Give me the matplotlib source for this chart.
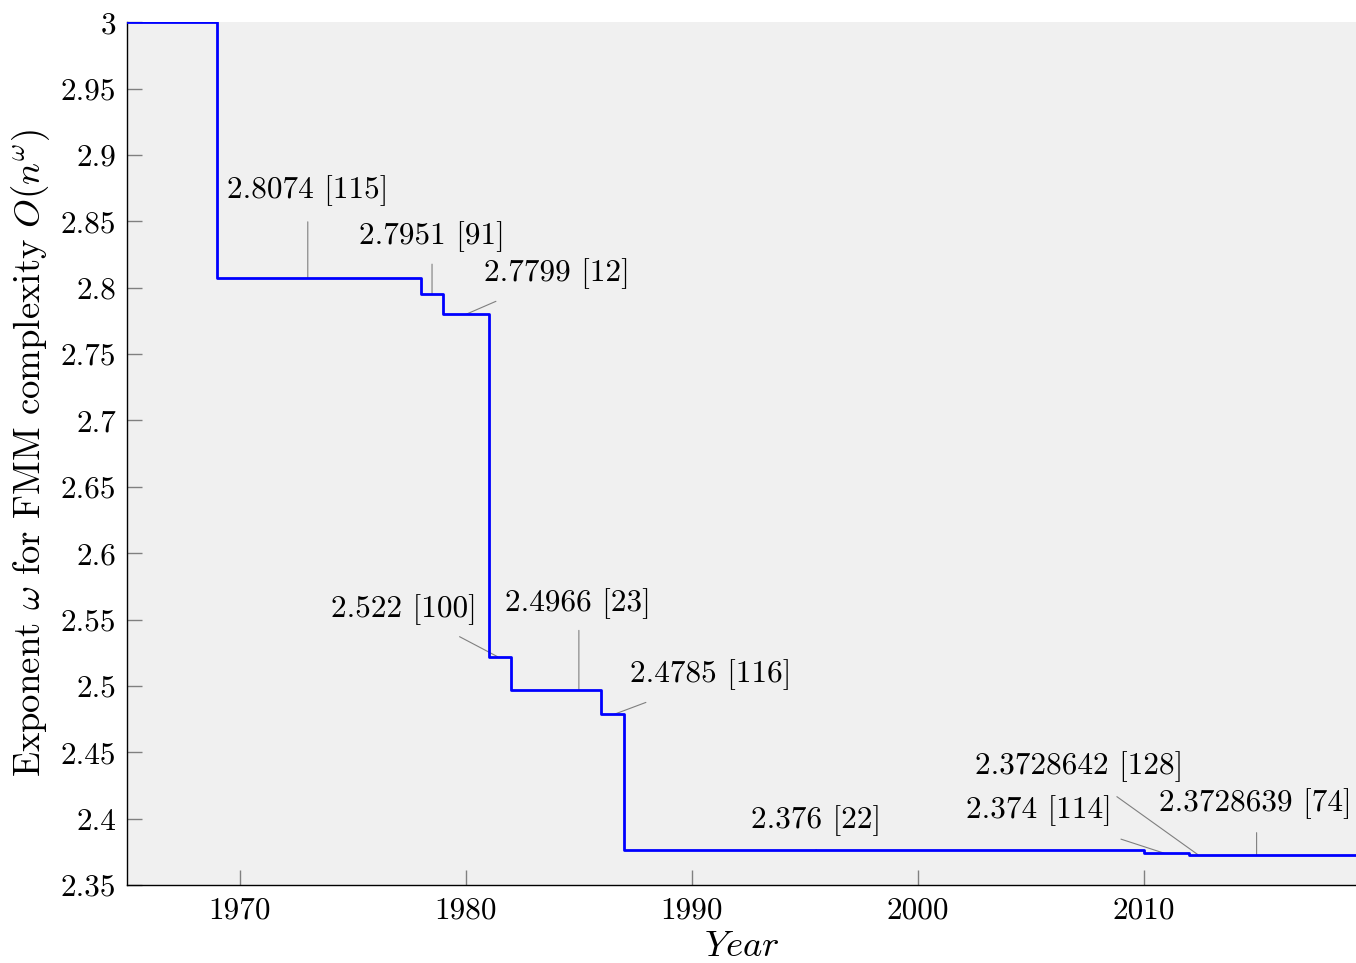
import matplotlib
matplotlib.use("Agg")
import matplotlib.pyplot as plt
from matplotlib.ticker import FuncFormatter, MultipleLocator

plt.rcParams.update({
    "font.family": "serif",
    "font.serif": ["cmr10"],
    "mathtext.fontset": "cm",
    "axes.formatter.use_mathtext": True,
    "font.size": 22.5,
})

# Year each bound was published and the exponent it achieved (step changes)
years = [1965, 1969, 1978, 1979, 1981, 1982, 1986, 1987, 2010, 2012, 2014, 2020]
omega = [3.0, 2.8074, 2.7951, 2.7799, 2.522, 2.4966, 2.4785, 2.376,
         2.374, 2.3728642, 2.3728639, 2.3728639]

# Labelled points along the curve
label_x = [1973, 1978.5, 1980, 1981.4, 1985, 1986.55, 1995.5, 2010.9, 2012.4, 2015]
label_y = [2.8074, 2.7951, 2.7799, 2.522, 2.4966, 2.4785, 2.376, 2.374, 2.3728642, 2.3728639]
label_txt = ["2.8074 [115]", "2.7951 [91]", "2.7799 [12]", "2.522 [100]",
             "2.4966 [23]", "2.4785 [116]", "2.376 [22]", "2.374 [114]",
             "2.3728642 [128]", "2.3728639 [74]"]
# pin line end and text centre, as pixel offsets from the labelled point
pin_end = [(0, 56), (0, 30), (30, 13), (-38, 20), (0, 60), (32, 12),
           (0, 1), (-43, 14), (-81, 58), (0, 22)]
text_off = [(0, 87), (0, 58), (91, 41), (-94, 47), (-1, 87), (97, 40),
            (0, 30), (-125, 43), (-119, 88), (-1, 51)]

fig = plt.figure(figsize=(13.56, 9.63), dpi=100)
ax = fig.add_axes([0.0937, 0.081, 0.9063, 0.896])
ax.set_facecolor("#f0f0f0")

ax.step(years, omega, where="post", color="#0000ff", lw=2.0, zorder=3)

for x, y, t, pe, to in zip(label_x, label_y, label_txt, pin_end, text_off):
    ax.annotate("", xy=(x, y), xytext=pe, textcoords="offset pixels",
                arrowprops=dict(arrowstyle="-", color="#7f7f7f", lw=0.8,
                                shrinkA=0, shrinkB=0), zorder=2)
    ax.annotate(t, xy=(x, y), xytext=to, textcoords="offset pixels",
                ha="center", va="center", color="black")

ax.set_xlim(1965, 2019.4)
ax.set_ylim(2.35, 3.0)
ax.xaxis.set_major_locator(MultipleLocator(10))
ax.yaxis.set_major_locator(MultipleLocator(0.05))
ax.yaxis.set_major_formatter(FuncFormatter(lambda v, p: f"{v:.2f}".rstrip("0").rstrip(".")))
ax.xaxis.set_major_formatter(FuncFormatter(lambda v, p: f"{int(round(v))}"))

for s in ("top", "right"):
    ax.spines[s].set_visible(False)
for s in ("left", "bottom"):
    ax.spines[s].set_color("black")
    ax.spines[s].set_linewidth(1.0)

ax.tick_params(direction="in", length=11, width=1.0, color="#808080",
               pad=8, labelsize=22.5)

ax.set_xlabel(r"$Year$", fontsize=26.5, labelpad=4)
ax.set_ylabel(r"Exponent $\omega$ for FMM complexity $O(n^{\omega})$",
              fontsize=26.5, labelpad=6)

fig.savefig("out.png", dpi=100, facecolor="white")
